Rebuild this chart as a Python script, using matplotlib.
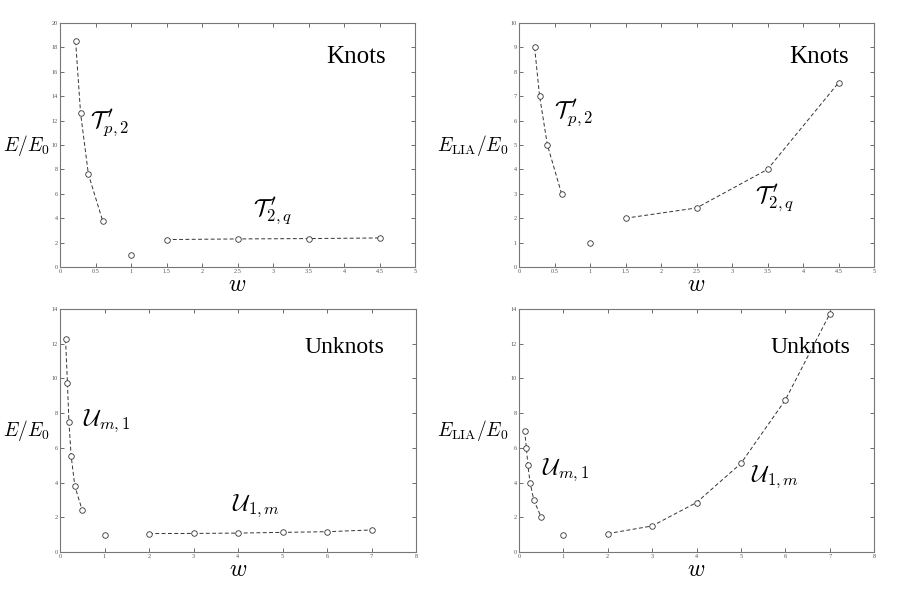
import matplotlib.pyplot as plt

plt.rcParams['mathtext.fontset'] = 'cm'
plt.rcParams['font.family'] = 'Liberation Serif'

# haut gauche : E/E0, noeuds
knot_p_w = [0.22, 0.29, 0.4, 0.6]
knot_p_E = [18.5, 12.6, 7.6, 3.8]
knot_q_w = [1.5, 2.5, 3.5, 4.5]
knot_q_E = [2.25, 2.3, 2.33, 2.38]

# haut droite : E_LIA/E0, noeuds
knot_p_lia = [9.0, 7.0, 5.0, 3.0]
knot_q_lia = [2.0, 2.42, 4.0, 7.55]

# bas gauche : E/E0, non-noeuds
unk_m_w = [0.125, 0.167, 0.2, 0.25, 0.333, 0.5]
unk_m_E = [12.25, 9.75, 7.5, 5.55, 3.8, 2.4]
unk_1_w = [2, 3, 4, 5, 6, 7]
unk_1_E = [1.06, 1.07, 1.09, 1.13, 1.17, 1.27]

# bas droite : E_LIA/E0, non-noeuds
unk_m_lia = [7.0, 6.0, 5.0, 4.0, 3.0, 2.0]
unk_1_lia = [1.06, 1.5, 2.85, 5.1, 8.75, 13.7]

# point isolé (cercle)
circle_w = [1.0]
circle_E = [1.0]

W, H = 913, 596
fig = plt.figure(figsize=(W / 100, H / 100), dpi=100)


def make_axes(left, top, right, bottom):
    return fig.add_axes([left / W, 1 - bottom / H, (right - left) / W, (bottom - top) / H])


def style(ax, xmax, ymax, ystep, ylabel, ysize):
    ax.set_xlim(0, xmax)
    ax.set_ylim(0, ymax)
    xstep = 0.5 if xmax == 5 else 1
    xt = [i * xstep for i in range(int(xmax / xstep) + 1)]
    ax.set_xticks(xt)
    ax.set_xticklabels([('%g' % v) for v in xt])
    yt = list(range(0, ymax + 1, ystep))
    ax.set_yticks(yt)
    ax.tick_params(direction='in', top=True, right=True, length=3, width=0.6,
                   labelsize=4.5, colors='#555555', pad=1.5)
    for s in ax.spines.values():
        s.set_color('#777777')
        s.set_linewidth(0.8)
    ax.set_xlabel('$w$', fontsize=17, labelpad=1)
    ax.text(-0.03, 0.5, ylabel, transform=ax.transAxes, fontsize=ysize,
            ha='right', va='center')


def series(ax, x, y):
    ax.plot(x, y, linestyle=(0, (4, 2.5)), color='#333333', linewidth=0.7,
            marker='o', markersize=4, markerfacecolor='white',
            markeredgecolor='#333333', markeredgewidth=0.6)


def lone(ax):
    ax.plot(circle_w, circle_E, linestyle='none', marker='o', markersize=4,
            markerfacecolor='white', markeredgecolor='#333333', markeredgewidth=0.6)


Tp2 = r"$\mathcal{T}^{\;\prime}_{p,2}$"
T2q = r"$\mathcal{T}^{\;\prime}_{2,q}$"
Um1 = r"$\mathcal{U}_{m,1}$"
U1m = r"$\mathcal{U}_{1,m}$"

ax1 = make_axes(60, 23, 415, 267)
series(ax1, knot_p_w, knot_p_E)
series(ax1, knot_q_w, knot_q_E)
lone(ax1)
style(ax1, 5, 20, 2, '$E/E_0$', 14)
ax1.text(0.835, 0.86, 'Knots', transform=ax1.transAxes, fontsize=18, ha='center', va='center')
ax1.text(0.14, 0.59, Tp2, transform=ax1.transAxes, fontsize=17, ha='center', va='center')
ax1.text(0.60, 0.23, T2q, transform=ax1.transAxes, fontsize=17, ha='center', va='center')

ax2 = make_axes(519, 23, 874, 267)
series(ax2, knot_p_w, knot_p_lia)
series(ax2, knot_q_w, knot_q_lia)
lone(ax2)
style(ax2, 5, 10, 1, r'$E_{\mathrm{LIA}}/E_0$', 14)
ax2.text(0.845, 0.86, 'Knots', transform=ax2.transAxes, fontsize=18, ha='center', va='center')
ax2.text(0.155, 0.63, Tp2, transform=ax2.transAxes, fontsize=17, ha='center', va='center')
ax2.text(0.72, 0.28, T2q, transform=ax2.transAxes, fontsize=17, ha='center', va='center')

ax3 = make_axes(60, 309, 416, 552)
series(ax3, unk_m_w, unk_m_E)
series(ax3, unk_1_w, unk_1_E)
lone(ax3)
style(ax3, 8, 14, 2, '$E/E_0$', 14)
ax3.text(0.8, 0.84, 'Unknots', transform=ax3.transAxes, fontsize=17, ha='center', va='center')
ax3.text(0.13, 0.54, Um1, transform=ax3.transAxes, fontsize=17, ha='center', va='center')
ax3.text(0.55, 0.19, U1m, transform=ax3.transAxes, fontsize=17, ha='center', va='center')

ax4 = make_axes(519, 309, 874, 552)
series(ax4, unk_m_w, unk_m_lia)
series(ax4, unk_1_w, unk_1_lia)
lone(ax4)
style(ax4, 8, 14, 2, r'$E_{\mathrm{LIA}}/E_0$', 14)
ax4.text(0.82, 0.84, 'Unknots', transform=ax4.transAxes, fontsize=17, ha='center', va='center')
ax4.text(0.13, 0.34, Um1, transform=ax4.transAxes, fontsize=17, ha='center', va='center')
ax4.text(0.72, 0.31, U1m, transform=ax4.transAxes, fontsize=17, ha='center', va='center')

fig.savefig('out.png', dpi=100, facecolor='white')
